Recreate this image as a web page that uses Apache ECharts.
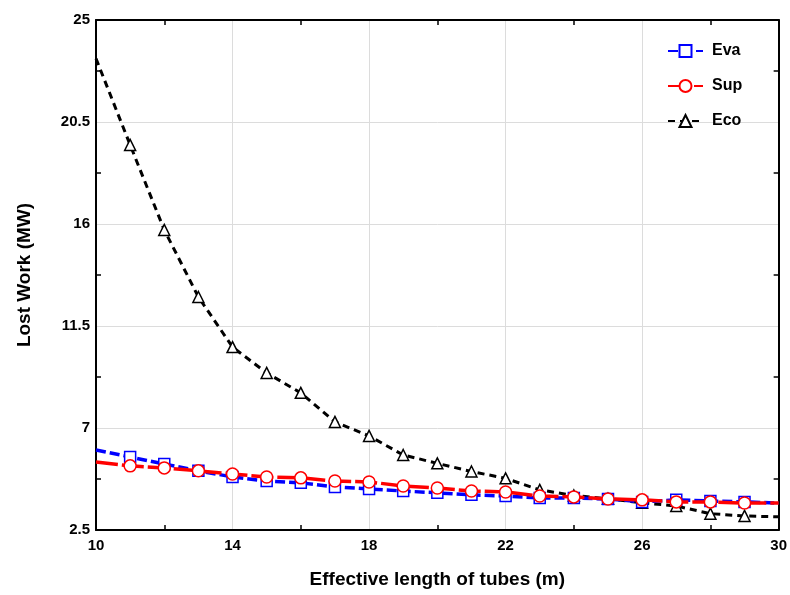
<!DOCTYPE html>
<html>
<head>
<meta charset="utf-8">
<script src="https://cdn.jsdelivr.net/npm/echarts@6/dist/echarts.min.js"></script>
<style>html,body{margin:0;padding:0;background:#fff;}#c{width:790px;height:595px;}</style>
</head>
<body>
<div id="c"></div>
<script>
const lengths = [10,11,12,13,14,15,16,17,18,19,20,21,22,23,24,25,26,27,28,29,30];
const eva = [6.03,5.72,5.41,5.11,4.84,4.66,4.58,4.40,4.31,4.22,4.14,4.05,4.00,3.91,3.91,3.87,3.74,3.83,3.78,3.74,3.69];
const sup = [5.50,5.33,5.24,5.11,4.97,4.84,4.80,4.66,4.62,4.44,4.35,4.22,4.18,4.00,3.96,3.87,3.83,3.74,3.74,3.69,3.69];
const eco = [23.3,19.49,15.74,12.78,10.57,9.43,8.55,7.27,6.65,5.81,5.44,5.08,4.78,4.27,4.02,3.88,3.70,3.56,3.22,3.12,3.08];
const xTicks = [10,14,18,22,26,30];
const yTicks = [2.5,7,11.5,16,20.5,25];

function mk(vals){
  return vals.map((v,i)=>{
    const item = {value:[lengths[i], v]};
    if (i===0 || i===vals.length-1) item.symbol='none';
    return item;
  });
}
const font = 'Arial, "Liberation Sans", sans-serif';
const chart = echarts.init(document.getElementById('c'), null, {renderer:'canvas'});
const axisCommonX = {
  type:'value', min:10, max:30, interval:4,
  axisLine:{show:true, onZero:false, lineStyle:{color:'#000', width:2}},
  axisTick:{show:false, inside:true},
  minorTick:{show:true, splitNumber:2, length:5, lineStyle:{color:'#000', width:1.5}},
  minorSplitLine:{show:false}
};
const axisCommonY = {
  type:'value', min:2.5, max:25, interval:4.5,
  axisLine:{show:true, onZero:false, lineStyle:{color:'#000', width:2}},
  axisTick:{show:false, inside:true},
  minorTick:{show:true, splitNumber:2, length:5, lineStyle:{color:'#000', width:1.5}},
  minorSplitLine:{show:false}
};
chart.setOption({
  animation:false,
  backgroundColor:'#fff',
  grid:{left:96, right:10, top:20, bottom:65, containLabel:false},
  legend:{
    orient:'vertical', left:662, top:38, itemGap:19, itemWidth:35, itemHeight:15,
    data:['Eva','Sup','Eco'],
    textStyle:{fontFamily:font, fontWeight:'bold', fontSize:16, color:'#000', padding:[0,0,0,4]}
  },
  xAxis:[
    Object.assign({}, axisCommonX, {
      position:'bottom',
      name:'Effective length of tubes (m)', nameLocation:'middle', nameGap:40,
      nameTextStyle:{fontFamily:font, fontWeight:'bold', fontSize:19, color:'#000'},
      axisLabel:{fontFamily:font, fontWeight:'bold', fontSize:15, color:'#000', margin:8,
        formatter:v=> xTicks.indexOf(v)>=0 ? String(v) : ''},
      splitLine:{show:true, lineStyle:{color:'#dcdcdc', width:1}}
    }),
    Object.assign({}, axisCommonX, {
      position:'top', axisLabel:{show:false}, splitLine:{show:false}
    })
  ],
  yAxis:[
    Object.assign({}, axisCommonY, {
      position:'left',
      name:'Lost Work (MW)', nameLocation:'middle', nameGap:62, nameRotate:90,
      nameTextStyle:{fontFamily:font, fontWeight:'bold', fontSize:19, color:'#000'},
      axisLabel:{fontFamily:font, fontWeight:'bold', fontSize:15, color:'#000', margin:6,
        formatter:v=> { const r=Math.round(v*10)/10; return yTicks.indexOf(r)>=0 ? String(r) : ''; }},
      splitLine:{show:true, lineStyle:{color:'#dcdcdc', width:1}}
    }),
    Object.assign({}, axisCommonY, {
      position:'right', axisLabel:{show:false}, splitLine:{show:false}
    })
  ],
  series:[
    {
      name:'Eco', type:'line', data:mk(eco), z:2,
      symbol:'triangle', symbolSize:11, showAllSymbol:true,
      lineStyle:{color:'#000', width:3, type:[7,5]},
      itemStyle:{color:'#fff', borderColor:'#000', borderWidth:1.5}
    },
    {
      name:'Eva', type:'line', data:mk(eva), z:3,
      symbol:'rect', symbolSize:11, showAllSymbol:true,
      lineStyle:{color:'#0000ff', width:3.5, type:[10,4]},
      itemStyle:{color:'#fff', borderColor:'#0000ff', borderWidth:1.5}
    },
    {
      name:'Sup', type:'line', data:mk(sup), z:4,
      symbol:'circle', symbolSize:12, showAllSymbol:true,
      lineStyle:{color:'#ff0000', width:3.5, type:[22,4]},
      itemStyle:{color:'#fff', borderColor:'#ff0000', borderWidth:1.5}
    }
  ]
});
</script>
</body>
</html>
